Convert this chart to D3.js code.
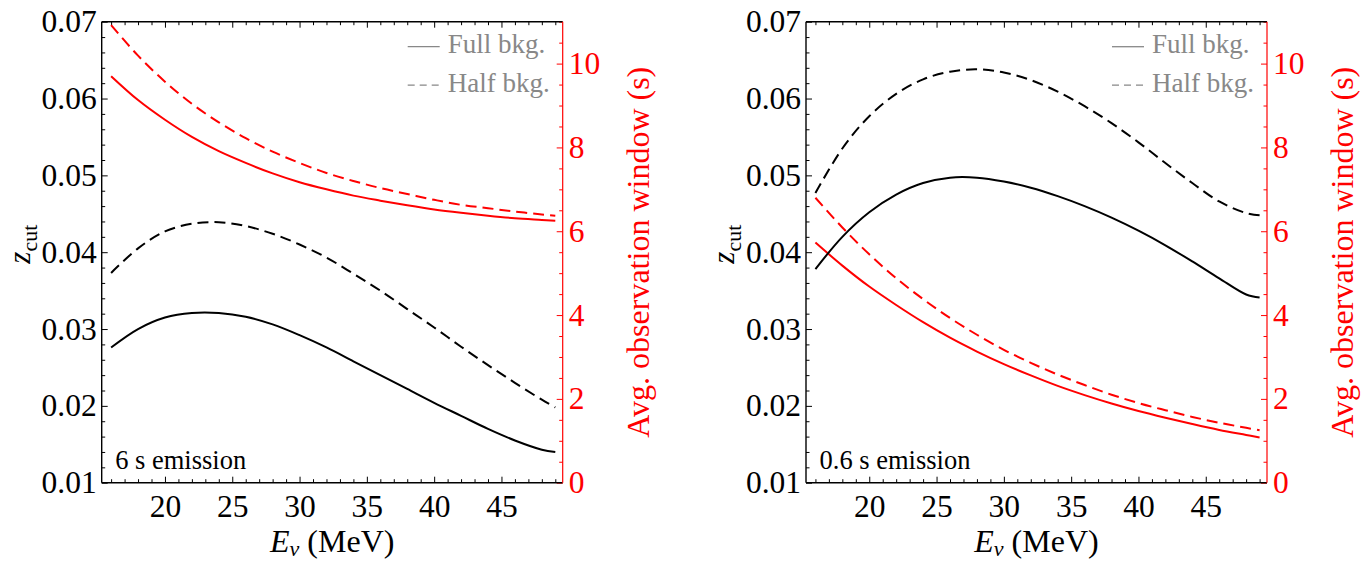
<!DOCTYPE html>
<html>
<head>
<meta charset="utf-8">
<script src="https://cdn.jsdelivr.net/npm/d3@7"></script>
<style>
  html, body { margin: 0; padding: 0; background: #fff; }
  svg { display: block; }
</style>
</head>
<body>
<svg id="chart" width="1362" height="565"></svg>
<script>
// ---------- data ----------
const energies = [16, 18, 20, 22, 24, 26, 28, 30, 32, 34, 36, 38, 40, 42, 44, 46, 48, 49];

// 6 s emission panel
const zcutFull6s = [0.0276, 0.0300, 0.0315, 0.0321, 0.0321, 0.0316, 0.0306, 0.0292, 0.0276, 0.0258, 0.0240, 0.0222, 0.0204, 0.0187, 0.0170, 0.0155, 0.0143, 0.0140];
const zcutHalf6s = [0.0373, 0.0405, 0.0427, 0.0437, 0.0439, 0.0434, 0.0424, 0.0410, 0.0393, 0.0372, 0.0350, 0.0326, 0.0302, 0.0277, 0.0253, 0.0230, 0.0208, 0.0198];
const windowFull6s = [9.70, 9.13, 8.66, 8.25, 7.91, 7.63, 7.38, 7.17, 7.00, 6.85, 6.73, 6.62, 6.52, 6.44, 6.37, 6.31, 6.27, 6.25];
const windowHalf6s = [10.92, 10.19, 9.57, 9.04, 8.60, 8.22, 7.90, 7.63, 7.39, 7.20, 7.03, 6.89, 6.75, 6.63, 6.55, 6.47, 6.40, 6.37];

// 0.6 s emission panel
const zcutFull06s = [0.0378, 0.0420, 0.0452, 0.0475, 0.0490, 0.0497, 0.0497, 0.0492, 0.0484, 0.0473, 0.0460, 0.0445, 0.0428, 0.0409, 0.0388, 0.0366, 0.0345, 0.0341];
const zcutHalf06s = [0.0477, 0.0535, 0.0577, 0.0606, 0.0625, 0.0635, 0.0638, 0.0634, 0.0624, 0.0609, 0.0590, 0.0568, 0.0543, 0.0516, 0.0490, 0.0466, 0.0451, 0.0448];
const windowFull06s = [5.73, 5.18, 4.68, 4.24, 3.83, 3.46, 3.13, 2.83, 2.56, 2.31, 2.09, 1.89, 1.71, 1.55, 1.40, 1.26, 1.14, 1.08];
const windowHalf06s = [6.80, 6.09, 5.45, 4.88, 4.38, 3.93, 3.53, 3.17, 2.86, 2.58, 2.33, 2.10, 1.90, 1.73, 1.57, 1.43, 1.31, 1.25];

// ticks & labels
const xTicks = [20, 25, 30, 35, 40, 45];
const zTicks = [0.01, 0.02, 0.03, 0.04, 0.05, 0.06, 0.07];
const windowTicks = [0, 2, 4, 6, 8, 10];
const panelTitles = ["6 s emission", "0.6 s emission"];
const legendLabels = ["Full bkg.", "Half bkg."];
const xDomain = [15.3, 49.55];
const zDomain = [0.01, 0.07];
const windowDomain = [0, 11];

// ---------- layout ----------
const FONT = '"Liberation Serif", "Times New Roman", Times, serif';
const svg = d3.select("#chart").attr("font-family", FONT);
const RED = "#ff0000";
const GRAY = "#888888";
const plotTop = 21.7, plotBottom = 482.7, plotW = 461;
const panelLefts = [101.7, 806];

const panels = [
  { title: panelTitles[0], zFull: zcutFull6s, zHalf: zcutHalf6s, tFull: windowFull6s, tHalf: windowHalf6s },
  { title: panelTitles[1], zFull: zcutFull06s, zHalf: zcutHalf06s, tFull: windowFull06s, tHalf: windowHalf06s }
];

const range = (a, b, s) => { const out = []; for (let v = a; v <= b + 1e-9; v += s) out.push(+v.toFixed(6)); return out; };
const xMinor = range(16, 49, 1).filter(v => !xTicks.includes(v));
const zMinor = range(0.012, 0.068, 0.002).filter(v => !zTicks.some(t => Math.abs(t - v) < 1e-6));
const tMinor = range(0.5, 11, 0.5).filter(v => !windowTicks.includes(v));

panels.forEach((p, i) => {
  const left = panelLefts[i];
  const right = left + plotW;
  const x = d3.scaleLinear().domain(xDomain).range([left, right]);
  const y = d3.scaleLinear().domain(zDomain).range([plotBottom, plotTop]);
  const yR = d3.scaleLinear().domain(windowDomain).range([plotBottom, plotTop]);
  const g = svg.append("g");

  const styleAxis = (sel, color, fs) => {
    sel.attr("font-family", FONT);
    sel.select(".domain").remove();
    sel.selectAll("line").attr("stroke", color).attr("stroke-width", 1);
    sel.selectAll("text").attr("fill", color).attr("font-size", fs);
  };

  // bottom axis
  g.append("g").attr("transform", `translate(0,${plotBottom})`)
    .call(d3.axisBottom(x).tickValues(xTicks).tickSize(-6).tickPadding(12).tickFormat(d3.format("d")))
    .call(s => styleAxis(s, "#000", 31.5));
  g.append("g").attr("transform", `translate(0,${plotBottom})`)
    .call(d3.axisBottom(x).tickValues(xMinor).tickSize(-3.5).tickFormat(""))
    .call(s => styleAxis(s, "#000", 31.5));
  // top axis (mirror)
  g.append("g").attr("transform", `translate(0,${plotTop})`)
    .call(d3.axisTop(x).tickValues(xTicks).tickSize(-6).tickFormat(""))
    .call(s => styleAxis(s, "#000", 31.5));
  g.append("g").attr("transform", `translate(0,${plotTop})`)
    .call(d3.axisTop(x).tickValues(xMinor).tickSize(-3.5).tickFormat(""))
    .call(s => styleAxis(s, "#000", 31.5));
  // left axis
  g.append("g").attr("transform", `translate(${left},0)`)
    .call(d3.axisLeft(y).tickValues(zTicks).tickSize(-6).tickPadding(5).tickFormat(d3.format(".2f")))
    .call(s => styleAxis(s, "#000", 31.5));
  g.append("g").attr("transform", `translate(${left},0)`)
    .call(d3.axisLeft(y).tickValues(zMinor).tickSize(-3.5).tickFormat(""))
    .call(s => styleAxis(s, "#000", 31.5));
  // right axis (red)
  g.append("g").attr("transform", `translate(${right},0)`)
    .call(d3.axisRight(yR).tickValues(windowTicks).tickSize(-6).tickPadding(6).tickFormat(d3.format("d")))
    .call(s => styleAxis(s, RED, 31.5));
  g.append("g").attr("transform", `translate(${right},0)`)
    .call(d3.axisRight(yR).tickValues(tMinor).tickSize(-3.5).tickFormat(""))
    .call(s => styleAxis(s, RED, 31.5));

  // frame
  g.append("line").attr("x1", left).attr("x2", right).attr("y1", plotTop).attr("y2", plotTop).attr("stroke", "#000").attr("stroke-width", 1.4);
  g.append("line").attr("x1", left).attr("x2", right).attr("y1", plotBottom).attr("y2", plotBottom).attr("stroke", "#000").attr("stroke-width", 1.4);
  g.append("line").attr("x1", left).attr("x2", left).attr("y1", plotTop).attr("y2", plotBottom).attr("stroke", "#000").attr("stroke-width", 1.4);
  g.append("line").attr("x1", right).attr("x2", right).attr("y1", plotTop).attr("y2", plotBottom).attr("stroke", RED).attr("stroke-width", 1.2);

  // curves
  const lineZ = d3.line().x((d, k) => x(energies[k])).y(d => y(d)).curve(d3.curveCatmullRom.alpha(0.5));
  const lineT = d3.line().x((d, k) => x(energies[k])).y(d => yR(d)).curve(d3.curveCatmullRom.alpha(0.5));
  const series = [
    { data: p.tHalf, gen: lineT, color: RED, dash: "11,6" },
    { data: p.tFull, gen: lineT, color: RED, dash: null },
    { data: p.zHalf, gen: lineZ, color: "#000", dash: "11,6" },
    { data: p.zFull, gen: lineZ, color: "#000", dash: null }
  ];
  series.forEach(s => {
    g.append("path").attr("d", s.gen(s.data)).attr("fill", "none")
      .attr("stroke", s.color).attr("stroke-width", 2)
      .attr("stroke-dasharray", s.dash);
  });

  // panel annotation
  g.append("text").attr("x", left + 13.5).attr("y", 469).attr("font-size", 26.5).attr("fill", "#000").text(p.title);

  // legend
  const lgX = right - 155;
  legendLabels.forEach((lab, k) => {
    const ly = 46.7 + k * 38.5;
    g.append("line").attr("x1", lgX).attr("x2", lgX + 32).attr("y1", ly).attr("y2", ly)
      .attr("stroke", GRAY).attr("stroke-width", 1.3)
      .attr("stroke-dasharray", k === 1 ? "7,5" : null);
    g.append("text").attr("x", lgX + 40).attr("y", ly + 6.5).attr("font-size", 27).attr("fill", GRAY).text(lab);
  });

  // x label
  const xl = g.append("text").attr("x", (left + right) / 2).attr("y", 552).attr("text-anchor", "middle").attr("font-size", 32).attr("fill", "#000");
  xl.append("tspan").attr("font-style", "italic").text("E");
  xl.append("tspan").attr("font-style", "italic").attr("font-size", 22).attr("dy", 4).text("ν");
  xl.append("tspan").attr("dy", -4).text(" (MeV)");

  // left y label z_cut
  const zl = g.append("text").attr("transform", `translate(${left - 72},${(plotTop + plotBottom) / 2 - 8}) rotate(-90)`)
    .attr("text-anchor", "middle").attr("font-size", 31).attr("fill", "#000");
  zl.append("tspan").attr("font-style", "italic").text("z");
  zl.append("tspan").attr("font-size", 22).attr("dy", 7).text("cut");

  // right y label
  g.append("text").attr("transform", `translate(${right + 86},${(plotTop + plotBottom) / 2}) rotate(-90)`)
    .attr("text-anchor", "middle").attr("font-size", 32).attr("fill", RED)
    .text("Avg. observation window (s)");
});
</script>
</body>
</html>
